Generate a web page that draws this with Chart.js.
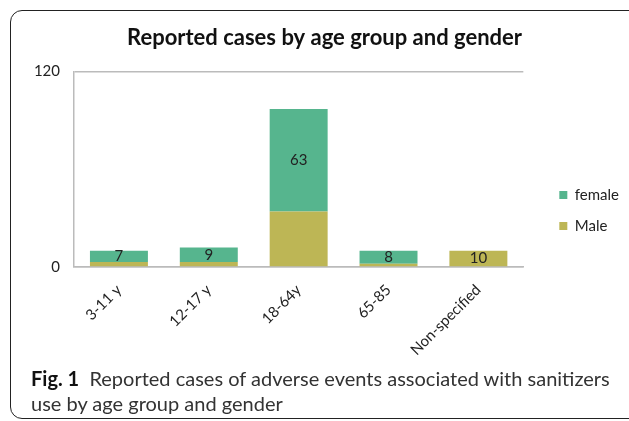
<!DOCTYPE html>
<html>
<head>
<meta charset="utf-8">
<script src="https://cdn.jsdelivr.net/npm/chart.js@4"></script>
<style>
  html, body { margin: 0; padding: 0; background: #fff; }
  #wrap { position: relative; width: 629px; height: 421px; overflow: hidden; }
  #frame {
    position: absolute; left: 10px; top: 10px; width: 640px; height: 407px;
    border: 1.5px solid #222; border-radius: 12px;
  }
  #chart { position: absolute; left: 0; top: 0; }
  #caption {
    position: absolute; left: 31px; top: 366px; width: 595px; white-space: nowrap;
    font-family: Lato, sans-serif; font-size: 20px; line-height: 25px; color: #333;
  }
  #caption b { color: #111; }
</style>
</head>
<body>
<div id="wrap">
  <div id="frame"></div>
  <canvas id="chart" width="629" height="421"></canvas>
  <div id="caption"><b>Fig. 1</b>&nbsp; Reported cases of adverse events associated with sanitizers<br>use by age group and gender</div>
</div>
<script>
var categories = ["3-11 y", "12-17 y", "18-64y", "65-85", "Non-specified"];
var femaleCases = [7, 9, 63, 8, 0];
var maleCases = [3, 3, 34, 2, 10];
var yTicks = [0, 120];

// labels in the middle of a segment: female where there is one, else male
var segmentLabels = {
  id: "segmentLabels",
  afterDatasetsDraw: function (chart) {
    var ctx = chart.ctx;
    ctx.save();
    ctx.font = "15px Lato, sans-serif";
    ctx.fillStyle = "#222";
    ctx.textAlign = "center";
    ctx.textBaseline = "middle";
    var fem = chart.getDatasetMeta(1).data;
    var mal = chart.getDatasetMeta(0).data;
    categories.forEach(function (c, i) {
      var el, v;
      if (femaleCases[i] > 0) { el = fem[i]; v = femaleCases[i]; }
      else { el = mal[i]; v = maleCases[i]; }
      ctx.fillText(String(v), el.x, (el.y + el.base) / 2);
    });
    ctx.restore();
  }
};

var chart = new Chart(document.getElementById("chart"), {
  type: "bar",
  data: {
    labels: categories,
    datasets: [{
      label: "Male",
      data: maleCases,
      backgroundColor: "#bdb655",
      barPercentage: 0.645,
      categoryPercentage: 1
    }, {
      label: "female",
      data: femaleCases,
      backgroundColor: "#56b58e",
      barPercentage: 0.645,
      categoryPercentage: 1
    }]
  },
  options: {
    responsive: false,
    animation: false,
    layout: { padding: { left: 20, right: 0, top: 0, bottom: 0 } },
    plugins: {
      title: {
        display: true,
        text: "Reported cases by age group and gender",
        font: { family: "Lato, sans-serif", size: 22, weight: "bold" },
        color: "#111",
        padding: { top: 25, bottom: 20 }
      },
      legend: {
        position: "right",
        reverse: true,
        labels: {
          boxWidth: 8,
          boxHeight: 8,
          padding: 16,
          color: "#222",
          font: { family: "Lato, sans-serif", size: 15 }
        }
      },
      tooltip: { enabled: false }
    },
    scales: {
      x: {
        stacked: true,
        grid: { display: false },
        border: { color: "#bbb", width: 1.5 },
        ticks: {
          color: "#222",
          font: { family: "Lato, sans-serif", size: 15 },
          minRotation: 45,
          maxRotation: 45,
          padding: 6
        },
        afterFit: function (s) { s.height = 154; }
      },
      y: {
        stacked: true,
        min: 0,
        max: 120,
        afterBuildTicks: function (s) { s.ticks = yTicks.map(function (v) { return { value: v }; }); },
        grid: { color: "#bbb", lineWidth: 1.5, drawTicks: false },
        border: { color: "#bbb", width: 1.5 },
        ticks: {
          color: "#222",
          font: { family: "Lato, sans-serif", size: 15 },
          padding: 14
        },
        afterFit: function (s) { s.width = 54; }
      },
      pad: {
        position: "right",
        display: true,
        grid: { display: false },
        border: { display: false },
        ticks: { display: false },
        afterFit: function (s) { s.width = 20; }
      }
    }
  },
  plugins: [segmentLabels]
});
</script>
</body>
</html>
